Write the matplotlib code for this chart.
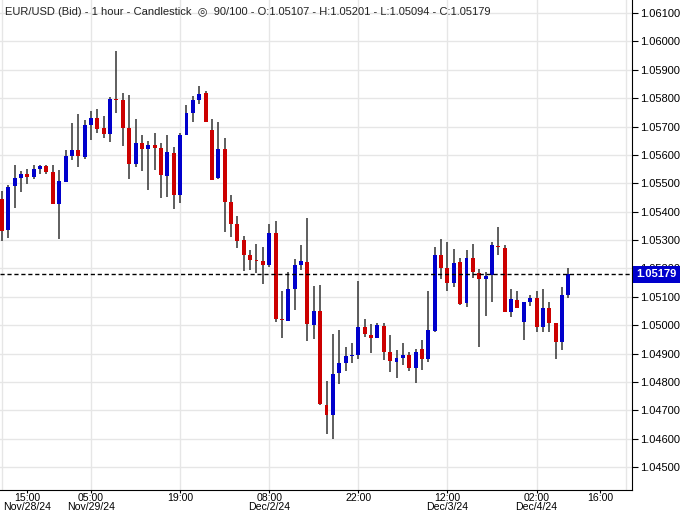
import matplotlib
matplotlib.use("Agg")
import matplotlib.pyplot as plt
import numpy as np

opens = [1.05445,1.05335,1.05492,1.0552,1.05533,1.05523,1.0555,1.05561,1.0554,1.05428,
1.05506,1.05597,1.05617,1.05594,1.05707,1.0573,1.05695,1.05675,1.05797,1.05794,
1.05695,1.05569,1.05642,1.05622,1.05635,1.05625,1.05527,1.05607,1.0546,1.05671,
1.05749,1.05794,1.05819,1.05688,1.0552,1.05621,1.05434,1.05356,1.053,1.05247,
1.05229,1.05226,1.05213,1.05324,1.05022,1.05015,1.05128,1.05212,1.05222,1.05001,
1.0505,1.04718,1.04684,1.04832,1.04867,1.04891,1.04896,1.04993,1.04965,1.04955,
1.04997,1.04905,1.04871,1.04885,1.04894,1.0485,1.04915,1.04882,1.04979,1.05248,
1.052,1.05147,1.05221,1.05078,1.05235,1.05183,1.05164,1.05177,1.05279,1.05273,
1.05047,1.05087,1.05012,1.0508,1.05097,1.04995,1.05061,1.05006,1.0494,1.05107]
highs = [1.05474,1.05493,1.05564,1.05544,1.0555,1.05564,1.05564,1.05564,1.05564,1.05547,
1.05617,1.05712,1.05744,1.05723,1.05755,1.05762,1.05737,1.05805,1.05966,1.05818,
1.05811,1.05727,1.0567,1.0565,1.05677,1.05642,1.0567,1.05628,1.05676,1.05776,
1.05809,1.05843,1.05825,1.05727,1.05715,1.05658,1.05458,1.05384,1.05314,1.05265,
1.05286,1.05276,1.05356,1.05367,1.0512,1.05187,1.05233,1.05282,1.05379,1.05138,
1.05141,1.04803,1.04968,1.04983,1.04923,1.04938,1.05155,1.05021,1.05004,1.05006,
1.05006,1.04965,1.04912,1.04937,1.04904,1.04916,1.04949,1.05119,1.05274,1.05303,
1.05292,1.05269,1.05237,1.05266,1.05286,1.05197,1.05188,1.05294,1.05346,1.05283,
1.05126,1.05119,1.05082,1.05108,1.05119,1.05126,1.05082,1.05008,1.05135,1.05201]
lows = [1.05298,1.05308,1.05414,1.0547,1.05497,1.05516,1.05534,1.05533,1.05428,1.05305,
1.05506,1.05582,1.05559,1.05587,1.05654,1.05678,1.0566,1.05647,1.05749,1.05631,
1.05516,1.05559,1.05544,1.05476,1.05547,1.05449,1.05453,1.0541,1.05432,1.05671,
1.05717,1.05781,1.05717,1.05513,1.05515,1.05329,1.05312,1.05273,1.05192,1.05194,
1.05185,1.05146,1.05206,1.05012,1.04955,1.05015,1.05054,1.05194,1.04945,1.04952,
1.04718,1.04615,1.04599,1.04793,1.04839,1.04867,1.04881,1.04959,1.04903,1.04955,
1.04878,1.04836,1.04815,1.04859,1.0484,1.04797,1.04842,1.04869,1.04976,1.05163,
1.05119,1.05136,1.05071,1.05064,1.05167,1.04922,1.05033,1.05082,1.05246,1.05047,
1.0503,1.05061,1.04947,1.05069,1.04975,1.04975,1.04977,1.04882,1.04913,1.05094]
closes = [1.05333,1.05488,1.05519,1.05533,1.05522,1.0555,1.05561,1.05541,1.05428,1.05508,
1.05596,1.05617,1.05597,1.05705,1.0573,1.05692,1.05675,1.05797,1.05795,1.05696,
1.05569,1.05642,1.05622,1.05635,1.05625,1.0553,1.0561,1.0546,1.0567,1.05748,
1.05794,1.05815,1.05717,1.05513,1.05621,1.05435,1.05357,1.05297,1.05248,1.05229,
1.05226,1.05213,1.05324,1.05021,1.05019,1.05127,1.05212,1.05226,1.05005,1.0505,
1.04722,1.04684,1.04827,1.04866,1.04891,1.04894,1.04993,1.0497,1.04954,1.05,
1.04906,1.04874,1.04884,1.04894,1.0485,1.04905,1.04882,1.04984,1.05248,1.05201,
1.05147,1.05219,1.05073,1.05235,1.05188,1.05164,1.05173,1.05283,1.05274,1.05047,
1.05092,1.05061,1.0508,1.05097,1.04992,1.05061,1.05006,1.0494,1.05108,1.05179]

tick_pos = [4, 14, 28, 42, 56, 70, 84, 94]
tick_labels = ["15:00\nNov/28/24", "05:00\nNov/29/24", "19:00", "08:00\nDec/2/24",
               "22:00", "12:00\nDec/3/24", "02:00\nDec/4/24", "16:00"]
grid_pos = [0, 14, 28, 42, 56, 70, 84, 98]
y_ticks = [1.045 + 0.001 * k for k in range(17)]
last_price = closes[-1]

fam = ["Liberation Sans", "DejaVu Sans"]

fig = plt.figure(figsize=(6.88, 5.12), dpi=100)
ax = fig.add_axes([0, 22/512, 632/688, 490/512])
ax.set_xlim(-0.3, 99)
ax.set_ylim(1.04419, 1.06146)

for g in grid_pos:
    ax.axvline(g, color="#e6e6e6", lw=1, zorder=0)
for t in y_ticks:
    ax.axhline(t, color="#e6e6e6", lw=1, zorder=0)

x = np.arange(len(opens))
o = np.array(opens); c = np.array(closes)
up = c >= o
colors = np.where(up, "#0000cc", "#cc0000")
ax.vlines(x, lows, highs, color="#333333", lw=1.1, zorder=2)
bottom = np.minimum(o, c)
height = np.maximum(np.abs(c - o), 0.000025)
ax.bar(x, height, bottom=bottom, width=0.62, color=colors, zorder=3)

ax.axhline(last_price, color="black", lw=1, ls=(0, (3, 2)), zorder=4)

ax.yaxis.tick_right()
ax.set_yticks(y_ticks)
ax.set_yticklabels([f"{t:.5f}" for t in y_ticks], fontsize=8, family=fam)
ax.set_xticks(tick_pos)
ax.set_xticklabels(tick_labels, fontsize=7.6, family=fam, linespacing=0.85)
ax.tick_params(axis="y", length=4, color="black", pad=2)
ax.tick_params(axis="x", length=2, color="black", pad=0.5)
for s in ["top", "left"]:
    ax.spines[s].set_visible(False)
ax.spines["right"].set_color("black")
ax.spines["bottom"].set_color("black")

ax.text(1.007, last_price, f"{last_price:.5f}", transform=ax.get_yaxis_transform(),
        ha="left", va="center", color="white", fontsize=8, fontweight="bold",
        family=fam, zorder=10, clip_on=False,
        bbox=dict(boxstyle="square,pad=0.3", fc="#0000cc", ec="none"))

ax.text(0.008, 0.975, "EUR/USD (Bid) - 1 hour - Candlestick  ◎  90/100 - O:1.05107 - H:1.05201 - L:1.05094 - C:1.05179",
        transform=ax.transAxes, ha="left", va="center", fontsize=8, family=fam, color="#222222")

fig.savefig("out.png", dpi=100)
